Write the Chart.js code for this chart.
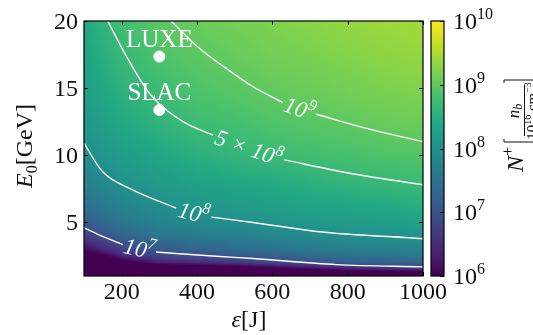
<!DOCTYPE html>
<html>
<head>
<meta charset="utf-8">
<script src="https://cdn.jsdelivr.net/npm/chart.js@4.4.0/dist/chart.umd.min.js"></script>
<style>
  html, body { margin: 0; padding: 0; background: #fff; }
</style>
</head>
<body>
<canvas id="grafico" width="533" height="335"></canvas>
<script>
// ==========================================
// DADOS
// ==========================================
const epsCols = [100, 200, 300, 400, 500, 600, 700, 800, 900, 1000];   // ε [J]
const eRows = [1, 1.5, 2, 2.5, 3, 4, 5, 6, 8, 10, 12, 14, 17, 20];      // E0 [GeV]

// log10(N+) em cada linha de E0 (uma coluna por ε)
const logN = [
  [2.40, 2.60, 2.80, 3.00, 3.30, 3.60, 4.00, 4.40, 4.60, 4.80],
  [3.40, 4.60, 5.10, 5.30, 5.50, 5.75, 6.00, 6.25, 6.40, 6.50],
  [4.78, 5.80, 6.36, 6.47, 6.64, 6.82, 7.01, 7.15, 7.22, 7.29],
  [5.57, 6.39, 6.83, 6.94, 7.08, 7.22, 7.37, 7.48, 7.54, 7.59],
  [6.09, 6.78, 7.14, 7.26, 7.38, 7.49, 7.62, 7.70, 7.75, 7.79],
  [6.75, 7.27, 7.54, 7.65, 7.75, 7.83, 7.92, 7.97, 8.00, 8.05],
  [7.14, 7.57, 7.77, 7.89, 7.97, 8.04, 8.12, 8.17, 8.20, 8.30],
  [7.40, 7.76, 7.93, 8.05, 8.12, 8.22, 8.30, 8.33, 8.37, 8.47],
  [7.73, 8.01, 8.17, 8.30, 8.38, 8.45, 8.53, 8.62, 8.68, 8.72],
  [7.93, 8.20, 8.37, 8.52, 8.62, 8.70, 8.78, 8.82, 8.88, 8.91],
  [8.07, 8.36, 8.55, 8.70, 8.77, 8.86, 8.92, 8.97, 9.04, 9.07],
  [8.18, 8.50, 8.70, 8.83, 8.90, 8.98, 9.04, 9.10, 9.16, 9.20],
  [8.30, 8.65, 8.85, 8.96, 9.04, 9.12, 9.18, 9.24, 9.30, 9.34],
  [8.40, 8.78, 8.97, 9.07, 9.15, 9.23, 9.29, 9.35, 9.40, 9.45]
];

// curvas de nível (null = espaço do rótulo)
const c1e9Eps = [331, 407, 478, 549, 627, 672, 717, 850, 1000];
const c1e9E0 = [20, 17.95, 16.46, 15.10, 13.94, null, 13.05, 12.0, 11.0];
const c5e8Eps = [163, 211, 274, 363, 443, 537, 632, 805, 1000];
const c5e8E0 = [20, 17.45, 14.6, 12.5, 11.5, null, 9.65, 8.66, 7.8];
const c1e8Eps = [100, 149, 229, 345, 391, 438, 549, 717, 1000];
const c1e8E0 = [10.9, 8.78, 7.42, 6.06, null, 5.39, 4.99, 4.32, 3.78];
const c1e7Eps = [100, 149, 203, 247, 291, 451, 549, 770, 1000];
const c1e7E0 = [4.6, 3.95, 3.34, null, 2.79, 2.47, 2.30, 1.85, 1.68];
const contourLabels = ['10^9', '5 × 10^8', '10^8', '10^7'];

// experimentos
const expNames = ['LUXE', 'SLAC'];
const expEps = [300, 300];
const expE0 = [17.35, 13.37];

// eixos
const xTicks = [200, 400, 600, 800, 1000];
const yTicks = [5, 10, 15, 20];
const cbarTicks = [6, 7, 8, 9, 10];   // log10

// ==========================================
// CORES (viridis)
// ==========================================
const viridisStops = ['#440154', '#482475', '#414487', '#355f8d', '#2a788e', '#21918c',
                      '#22a884', '#44bf70', '#7ad151', '#bddf26', '#fde725'];
const viridisRgb = viridisStops.map(h => [1, 3, 5].map(i => parseInt(h.substr(i, 2), 16)));

function viridis(t) {
    t = Math.max(0, Math.min(1, t)) * (viridisRgb.length - 1);
    const i = Math.min(Math.floor(t), viridisRgb.length - 2);
    const f = t - i;
    const a = viridisRgb[i], b = viridisRgb[i + 1];
    return [0, 1, 2].map(k => Math.round(a[k] + (b[k] - a[k]) * f));
}

function acharIntervalo(arr, v) {
    if (v <= arr[0]) return [0, 0];
    for (let i = 0; i < arr.length - 1; i++) {
        if (v <= arr[i + 1]) return [i, (v - arr[i]) / (arr[i + 1] - arr[i])];
    }
    return [arr.length - 2, 1];
}

function valorEm(eps, e0) {
    const [i, fx] = acharIntervalo(epsCols, eps);
    const [j, fy] = acharIntervalo(eRows, e0);
    const a = logN[j][i], b = logN[j][i + 1], c = logN[j + 1][i], d = logN[j + 1][i + 1];
    return a * (1 - fx) * (1 - fy) + b * fx * (1 - fy) + c * (1 - fx) * fy + d * fx * fy;
}

// ==========================================
// TEXTO "MATEMÁTICO"
// ==========================================
const serif = "'Liberation Serif', 'Times New Roman', serif";

function fonte(p) {
    return (p[2] ? 'italic ' : '') + p[1] + 'px ' + serif;
}

function escrever(ctx, x, y, partes, alinhar) {
    let largura = 0;
    partes.forEach(p => { ctx.font = fonte(p); largura += ctx.measureText(p[0]).width; });
    let cx = x;
    if (alinhar === 'center') cx = x - largura / 2;
    if (alinhar === 'right') cx = x - largura;
    ctx.textAlign = 'left';
    ctx.textBaseline = 'alphabetic';
    partes.forEach(p => {
        ctx.font = fonte(p);
        ctx.fillText(p[0], cx, y + (p[3] || 0));
        cx += ctx.measureText(p[0]).width;
    });
}

function potencia(texto, tam, italico) {
    const [base, exp] = texto.split('^');
    return [[base, tam, italico, 0], [exp, Math.round(tam * 0.68), italico, -Math.round(tam * 0.42)]];
}

// ==========================================
// PLUGINS
// ==========================================
let imagemCalor = null;

const mapaDeCalor = {
    id: 'mapaDeCalor',
    beforeDatasetsDraw(chart) {
        const { ctx, chartArea: a, scales: { x, y } } = chart;
        const w = Math.round(a.right - a.left), h = Math.round(a.bottom - a.top);
        if (!imagemCalor) {
            imagemCalor = document.createElement('canvas');
            imagemCalor.width = w; imagemCalor.height = h;
            const c2 = imagemCalor.getContext('2d');
            const img = c2.createImageData(w, h);
            for (let j = 0; j < h; j++) {
                const e0 = y.getValueForPixel(a.top + j + 0.5);
                for (let i = 0; i < w; i++) {
                    const eps = x.getValueForPixel(a.left + i + 0.5);
                    const v = valorEm(eps, e0);
                    const cor = viridis((v - cbarTicks[0]) / (cbarTicks[cbarTicks.length - 1] - cbarTicks[0]));
                    const k = (j * w + i) * 4;
                    img.data[k] = cor[0]; img.data[k + 1] = cor[1]; img.data[k + 2] = cor[2]; img.data[k + 3] = 255;
                }
            }
            c2.putImageData(img, 0, 0);
        }
        ctx.drawImage(imagemCalor, Math.round(a.left), Math.round(a.top));
    }
};

const rotulosEEixos = {
    id: 'rotulosEEixos',
    afterDatasetsDraw(chart) {
        const { ctx, chartArea: a, scales: { x, y } } = chart;
        ctx.save();

        // --- rótulos das curvas de nível ---
        ctx.fillStyle = 'rgba(255,255,255,0.95)';
        [c1e9E0, c5e8E0, c1e8E0, c1e7E0].forEach((serie, n) => {
            const epsArr = [c1e9Eps, c5e8Eps, c1e8Eps, c1e7Eps][n];
            const k = serie.indexOf(null);
            const p0 = [x.getPixelForValue(epsArr[k - 1]), y.getPixelForValue(serie[k - 1])];
            const p1 = [x.getPixelForValue(epsArr[k + 1]), y.getPixelForValue(serie[k + 1])];
            ctx.save();
            ctx.translate((p0[0] + p1[0]) / 2, (p0[1] + p1[1]) / 2);
            ctx.rotate(Math.atan2(p1[1] - p0[1], p1[0] - p0[0]));
            escrever(ctx, 0, 8, potencia(contourLabels[n], 23, true), 'center');
            ctx.restore();
        });

        // --- nomes dos experimentos ---
        ctx.fillStyle = '#ffffff';
        expNames.forEach((nome, i) => {
            escrever(ctx, x.getPixelForValue(expEps[i]), y.getPixelForValue(expE0[i]) - 10,
                [[nome, 25, false]], 'center');
        });

        // --- moldura e ticks ---
        ctx.strokeStyle = '#000';
        ctx.lineWidth = 1.2;
        ctx.strokeRect(a.left, a.top, a.right - a.left, a.bottom - a.top);
        ctx.lineWidth = 1;
        ctx.beginPath();
        xTicks.forEach(v => {
            const px = Math.round(x.getPixelForValue(v)) + 0.5;
            ctx.moveTo(px, a.bottom); ctx.lineTo(px, a.bottom - 4);
            ctx.moveTo(px, a.top); ctx.lineTo(px, a.top + 4);
        });
        yTicks.forEach(v => {
            const py = Math.round(y.getPixelForValue(v)) + 0.5;
            ctx.moveTo(a.left, py); ctx.lineTo(a.left + 4, py);
            ctx.moveTo(a.right, py); ctx.lineTo(a.right - 4, py);
        });
        ctx.stroke();

        ctx.fillStyle = '#111';
        xTicks.forEach(v => escrever(ctx, x.getPixelForValue(v), 299, [[String(v), 24, false]], 'center'));
        yTicks.forEach(v => escrever(ctx, a.left - 6, y.getPixelForValue(v) + 8, [[String(v), 24, false]], 'right'));

        // --- títulos dos eixos ---
        escrever(ctx, 249, 327, [['ε', 24, true], ['[J]', 24, false]], 'center');
        ctx.save();
        ctx.translate(32, 146);
        ctx.rotate(-Math.PI / 2);
        escrever(ctx, 0, 0, [['E', 24, true], ['0', 16, false, 5], ['[GeV]', 24, false]], 'center');
        ctx.restore();

        // --- barra de cores ---
        const cb = { left: 431, right: 444, top: a.top, bottom: a.bottom };
        const grad = ctx.createLinearGradient(0, cb.bottom, 0, cb.top);
        viridisStops.forEach((c, i) => grad.addColorStop(i / (viridisStops.length - 1), c));
        ctx.fillStyle = grad;
        ctx.fillRect(cb.left, cb.top, cb.right - cb.left, cb.bottom - cb.top);
        ctx.strokeStyle = '#000';
        ctx.lineWidth = 1.2;
        ctx.strokeRect(cb.left, cb.top, cb.right - cb.left, cb.bottom - cb.top);
        ctx.fillStyle = '#111';
        ctx.lineWidth = 1;
        const span = cbarTicks[cbarTicks.length - 1] - cbarTicks[0];
        cbarTicks.forEach(v => {
            const py = cb.bottom - (v - cbarTicks[0]) / span * (cb.bottom - cb.top);
            ctx.beginPath();
            ctx.moveTo(cb.right, Math.round(py) + 0.5); ctx.lineTo(cb.right - 4, Math.round(py) + 0.5);
            ctx.stroke();
            escrever(ctx, 453, py + 8, potencia('10^' + v, 24, false), 'left');
        });

        // --- título da barra de cores ---
        ctx.save();
        ctx.translate(523, 172);
        ctx.rotate(-Math.PI / 2);
        escrever(ctx, 0, 0, [['N', 24, true], ['+', 16, false, -10]], 'left');
        ctx.strokeStyle = '#111';
        ctx.lineWidth = 1;
        ctx.beginPath();
        ctx.moveTo(33, -19); ctx.lineTo(30, -19); ctx.lineTo(30, 14); ctx.lineTo(33, 14);
        ctx.moveTo(89, -19); ctx.lineTo(92, -19); ctx.lineTo(92, 14); ctx.lineTo(89, 14);
        ctx.moveTo(36, 1.5); ctx.lineTo(87, 1.5);
        ctx.stroke();
        escrever(ctx, 61, -4, [['n', 17, true], ['b', 12, true, 3]], 'center');
        escrever(ctx, 61, 14, [['10', 15, false], ['16', 10, false, -6], [' cm', 15, false], ['−3', 10, false, -6]], 'center');
        ctx.restore();

        ctx.restore();
    }
};

// ==========================================
// GRÁFICO
// ==========================================
function curva(epsArr, e0Arr, nome) {
    return {
        type: 'line',
        label: nome,
        data: epsArr.map((v, i) => ({ x: v, y: e0Arr[i] })),
        borderColor: '#ffffff',
        borderWidth: 1.4,
        pointRadius: 0,
        fill: false,
        spanGaps: false,
        cubicInterpolationMode: 'monotone'
    };
}

new Chart(document.getElementById('grafico'), {
    type: 'scatter',
    data: {
        datasets: [
            curva(c1e9Eps, c1e9E0, contourLabels[0]),
            curva(c5e8Eps, c5e8E0, contourLabels[1]),
            curva(c1e8Eps, c1e8E0, contourLabels[2]),
            curva(c1e7Eps, c1e7E0, contourLabels[3]),
            {
                type: 'scatter',
                label: 'experimentos',
                data: expEps.map((v, i) => ({ x: v, y: expE0[i] })),
                backgroundColor: '#ffffff',
                borderColor: '#ffffff',
                pointRadius: 5.5
            }
        ]
    },
    options: {
        responsive: false,
        animation: false,
        events: [],
        layout: { padding: { left: 84, right: 110, top: 21, bottom: 59 } },
        plugins: { legend: { display: false }, tooltip: { enabled: false } },
        scales: {
            x: { type: 'linear', min: 100, max: 1000, display: false },
            y: { type: 'linear', min: 1, max: 20, display: false }
        }
    },
    plugins: [mapaDeCalor, rotulosEEixos]
});
</script>
</body>
</html>
